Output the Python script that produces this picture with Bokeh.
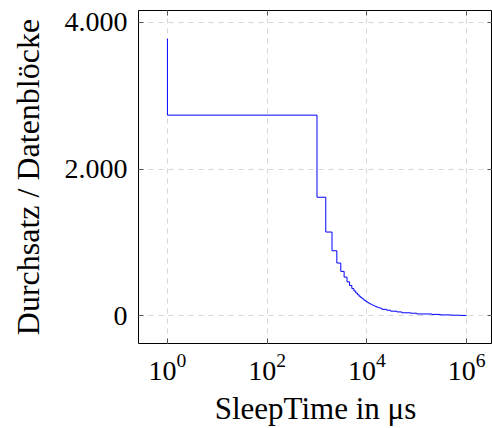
from bokeh.plotting import figure
from bokeh.models import LogAxis, LinearAxis, FixedTicker, Range1d
from bokeh.embed import file_html
from bokeh.resources import INLINE

# Data: sleep time in µs and throughput
sleep_us = [1, 1000, 1500, 2000, 2500, 3000, 3500, 4000, 4500, 5000, 5500,
            6000, 6500, 7000, 7500, 8000, 8500, 9000, 9500, 10000, 10500,
            11000, 11500, 12000, 12500, 13000, 13500, 14000, 14500, 15000,
            16000, 17000, 18000, 19000, 20000, 25000, 30000, 40000, 50000,
            75000, 100000, 200000, 300000, 500000, 750000, 1000000]
throughput = [3780, 2735, 1615, 1140, 885, 717, 603, 525, 460, 410, 368,
              335, 307, 284, 263, 246, 231, 217, 205, 194, 185,
              176, 168, 161, 154, 148, 143, 137, 133, 128,
              121, 114, 108, 103, 100, 85, 73, 60, 50,
              38, 32, 22, 16, 9, 5, 2]

x_ticks = [1, 100, 10000, 1000000]
y_ticks = [0, 2000, 4000]
y_tick_labels = {0: "0", 2000: "2.000", 4000: "4.000"}

FONT = "Liberation Serif"

p = figure(width=492, height=428, x_axis_type="log",
           x_range=Range1d(10 ** -0.58, 10 ** 6.52),
           y_range=Range1d(-381, 4163),
           output_backend="svg", toolbar_location=None,
           min_border_left=138, min_border_right=0, min_border_top=10,
           min_border_bottom=84)

p.step(sleep_us, throughput, mode="before", line_color="#0000ff", line_width=1)

p.outline_line_color = "black"
p.outline_line_width = 1

for ax in (p.xaxis[0], p.yaxis[0]):
    ax.major_tick_in = 5
    ax.major_tick_out = 0
    ax.minor_tick_in = 0
    ax.minor_tick_out = 0
    ax.major_tick_line_color = "#555555"
    ax.axis_line_color = None
    ax.major_label_text_font = FONT
    ax.major_label_text_font_size = "28px"
    ax.major_label_text_color = "black"
    ax.axis_label_text_font = FONT
    ax.axis_label_text_font_style = "normal"
    ax.axis_label_text_color = "black"

p.xaxis[0].axis_label_text_font_size = "31px"
p.yaxis[0].axis_label_text_font_size = "32px"
p.xaxis[0].ticker = FixedTicker(ticks=x_ticks)
p.yaxis[0].ticker = FixedTicker(ticks=y_ticks)
p.yaxis[0].major_label_overrides = y_tick_labels
p.xaxis[0].axis_label = "SleepTime in μs"
p.yaxis[0].axis_label = "Durchsatz / Datenblöcke"
p.xaxis[0].major_label_standoff = 10
p.yaxis[0].major_label_standoff = 11
p.xaxis[0].axis_label_standoff = 8
p.yaxis[0].axis_label_standoff = 16

# mirrored ticks on top and right
top = LogAxis(ticker=FixedTicker(ticks=x_ticks))
right = LinearAxis(ticker=FixedTicker(ticks=y_ticks))
for ax in (top, right):
    ax.major_tick_in = 5
    ax.major_tick_out = 0
    ax.minor_tick_in = 0
    ax.minor_tick_out = 0
    ax.major_tick_line_color = "#555555"
    ax.axis_line_color = None
    ax.major_label_text_font_size = "1px"
    ax.major_label_text_color = None
    ax.major_label_standoff = 0
p.add_layout(top, "above")
p.add_layout(right, "right")

for g in (p.xgrid[0], p.ygrid[0]):
    g.grid_line_color = "#d6d6d6"
    g.grid_line_dash = "5 5"
    g.grid_line_width = 1
p.xgrid[0].ticker = FixedTicker(ticks=x_ticks)
p.ygrid[0].ticker = FixedTicker(ticks=y_ticks)

open("out.html", "w").write(file_html(p, INLINE))
